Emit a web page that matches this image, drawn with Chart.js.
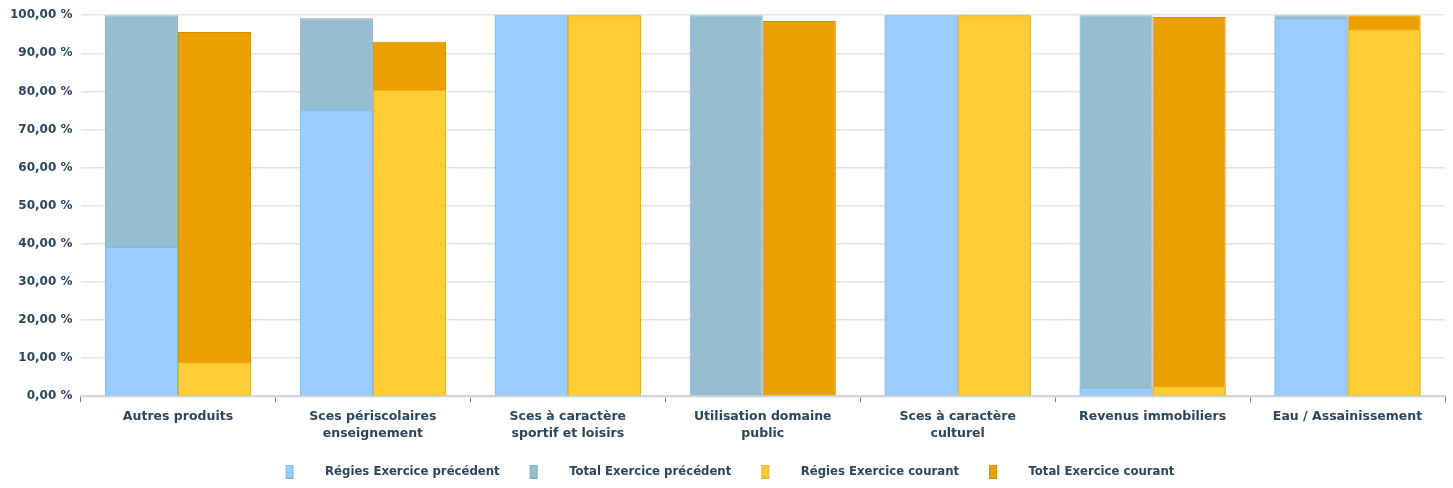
<!DOCTYPE html>
<html>
<head>
<meta charset="utf-8">
<script src="https://cdn.jsdelivr.net/npm/chart.js@4"></script>
<style>
  html, body { margin: 0; padding: 0; background: #fff; }
  #wrap { width: 1453px; height: 488px; }
</style>
</head>
<body>
<div id="wrap"><canvas id="myChart"></canvas></div>
<script>
// categories
const labels = [
  "Autres produits",
  ["Sces périscolaires", "enseignement"],
  ["Sces à caractère", "sportif et loisirs"],
  ["Utilisation domaine", "public"],
  ["Sces à caractère", "culturel"],
  "Revenus immobiliers",
  "Eau / Assainissement"
];

// values in %
const regiesPrec = [39.2, 75.2, 100, 0, 100, 2.3, 99.2];
const totalPrec = [100, 99.2, 100, 100, 100, 100, 100];
const regiesCour = [8.9, 80.4, 100, 0, 100, 2.6, 96.3];
const totalCour = [95.6, 93.0, 100, 98.5, 100, 99.5, 100];

const yTicks = { min: 0, max: 100, step: 10 };

const textColor = "#2a4660";

// legend marker: narrow tall box with some room on the left
function marker(color, border) {
  const c = document.createElement("canvas");
  c.width = 46;
  c.height = 14;
  const ctx = c.getContext("2d");
  ctx.fillStyle = color;
  ctx.fillRect(13, 0, 8, 14);
  ctx.strokeStyle = border;
  ctx.lineWidth = 1;
  ctx.strokeRect(13.5, 0.5, 7, 13);
  return c;
}

function dataset(label, data, stack, bg, border) {
  return {
    label: label,
    data: data,
    stack: stack,
    backgroundColor: bg,
    borderColor: border,
    borderWidth: (ctx) => (ctx.raw === 0 ? 0 : 1),
    borderSkipped: "bottom",
    categoryPercentage: 0.75,
    barPercentage: 1.0,
    pointStyle: marker(bg, border)
  };
}

const config = {
  type: "bar",
  data: {
    labels: labels,
    datasets: [
      dataset("Régies Exercice précédent", regiesPrec, "prec", "#99ccff", "#86b6e3"),
      dataset("Total Exercice précédent", totalPrec, "prec", "#96bdd0", "#82a9bd"),
      dataset("Régies Exercice courant", regiesCour, "cour", "#ffcc33", "#e6b52a"),
      dataset("Total Exercice courant", totalCour, "cour", "#eba000", "#d18f00")
    ]
  },
  options: {
    responsive: true,
    maintainAspectRatio: false,
    animation: false,
    layout: { padding: { left: 2, right: 8, top: 5, bottom: 0 } },
    plugins: {
      tooltip: { enabled: false },
      legend: {
        position: "bottom",
        labels: {
          usePointStyle: true,
          pointStyleWidth: 46,
          boxHeight: 14,
          padding: 17,
          color: textColor,
          font: { family: "'DejaVu Sans Condensed', 'DejaVu Sans'", weight: "bold", size: 13 },
          generateLabels: (chart) => {
            const items = Chart.defaults.plugins.legend.labels.generateLabels(chart);
            items.forEach((it) => {
              it.pointStyle = chart.data.datasets[it.datasetIndex].pointStyle;
            });
            return items;
          }
        }
      }
    },
    scales: {
      x: {
        stacked: true,
        offset: true,
        grid: { display: true, drawOnChartArea: false, drawTicks: true, tickLength: 6, color: "#6b7f90", offset: true },
        border: { display: true, color: "#cfd6de", width: 2 },
        ticks: {
          color: textColor,
          maxRotation: 0,
          autoSkip: false,
          padding: 6,
          font: { family: "'DejaVu Sans'", weight: "bold", size: 12.5, lineHeight: 1.35 }
        }
      },
      y: {
        stacked: false,
        min: yTicks.min,
        max: yTicks.max,
        grid: { color: "#dfe5eb", lineWidth: 1.5, drawTicks: false },
        border: { display: false },
        ticks: {
          stepSize: yTicks.step,
          padding: 8,
          color: textColor,
          font: { family: "'DejaVu Sans'", weight: "bold", size: 12 },
          callback: (v) => v.toFixed(2).replace(".", ",") + " %"
        }
      }
    }
  }
};

new Chart(document.getElementById("myChart"), config);
</script>
</body>
</html>
